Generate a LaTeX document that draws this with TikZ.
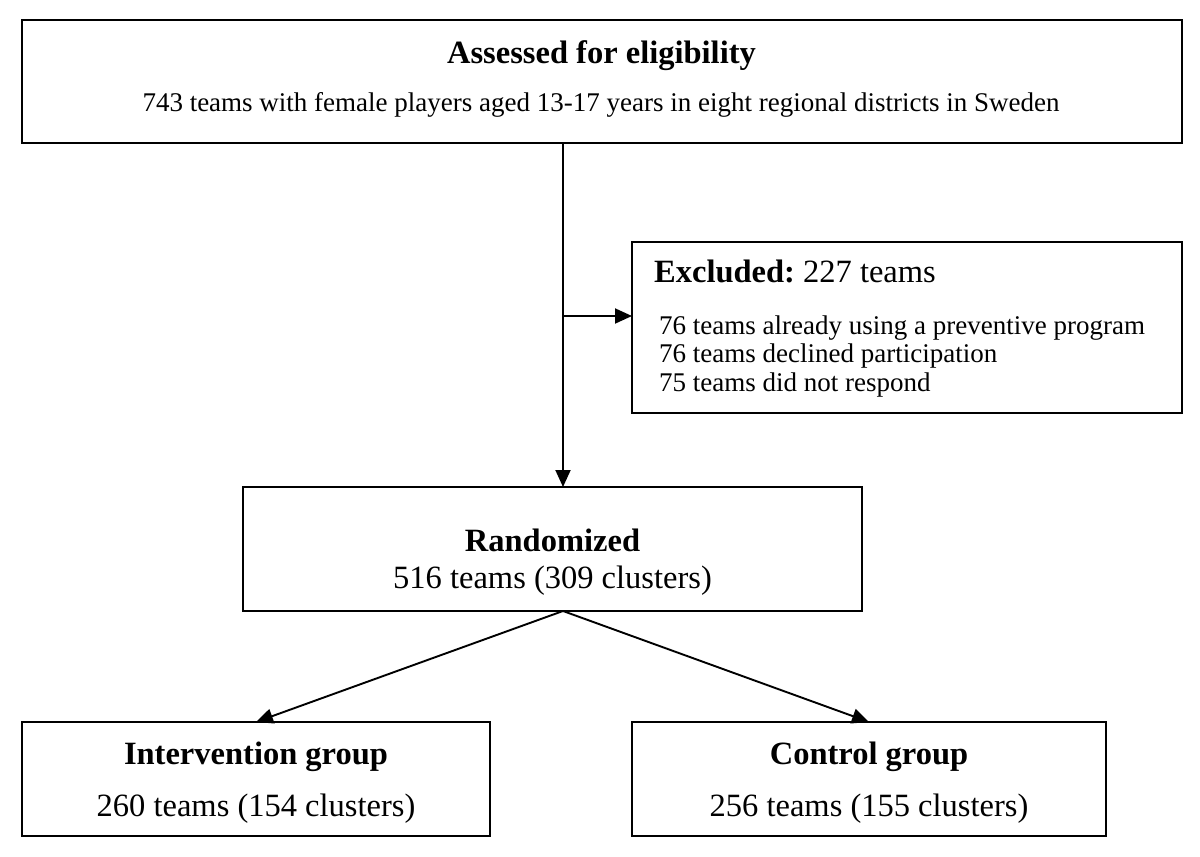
\documentclass[tikz,border=0pt]{standalone}
\usepackage{fontspec}
\setmainfont{Liberation Serif}
\usetikzlibrary{arrows.meta}
\begin{document}
\begin{tikzpicture}[x=1pt,y=-1pt,
  box/.style={draw, line width=1.9pt, inner sep=0pt, outer sep=0pt},
  arr/.style={line width=1.9pt, -{Triangle[length=17pt,width=15pt]}},
  ttl/.style={font=\fontsize{32.5}{38}\selectfont\bfseries, inner sep=0pt, anchor=base},
  big/.style={font=\fontsize{32.5}{38}\selectfont, inner sep=0pt, anchor=base},
  sml/.style={font=\fontsize{27}{32}\selectfont, inner sep=0pt, anchor=base},
]
\useasboundingbox (0,0) rectangle (1200,857);
\fill[white] (0,0) rectangle (1200,857);

% boxes
\node[box, minimum width=1160pt, minimum height=123pt] (top) at (602,81.5) {};
\node[box, minimum width=550pt, minimum height=171pt] (excl) at (907,327.5) {};
\node[box, minimum width=619pt, minimum height=124pt] (rand) at (552.5,549) {};
\node[box, minimum width=468pt, minimum height=114pt] (interv) at (256,779) {};
\node[box, minimum width=474pt, minimum height=114pt] (ctrl) at (869,779) {};

% texts
\node[ttl] (toptitle) at (601.5,63) {Assessed for eligibility};
\node[sml] (topsub) at (601,111) {743 teams with female players aged 13-17 years in eight regional districts in Sweden};

\node[big, anchor=base west] (exhead) at (654,282.5) {\textbf{Excluded:}\ 227 teams};
\node[sml, anchor=base west] (ex1) at (659,334) {76 teams already using a preventive program};
\node[sml, anchor=base west] (ex2) at (659,362.5) {76 teams declined participation};
\node[sml, anchor=base west] (ex3) at (659,391) {75 teams did not respond};

\node[ttl] (randtitle) at (552.5,551) {Randomized};
\node[big] (randsub) at (552.5,588) {516 teams (309 clusters)};

\node[ttl] (intitle) at (256,764) {Intervention group};
\node[big] (insub) at (256,816) {260 teams (154 clusters)};

\node[ttl] (cttitle) at (869,764) {Control group};
\node[big] (ctsub) at (869,816) {256 teams (155 clusters)};

% connectors
\coordinate (v0) at (563,143);
\coordinate (br) at (563,316);
\coordinate (rtop) at (563,487);
\coordinate (rbot) at (563,611);
\draw[arr] (v0) -- (rtop);
\draw[arr] (br) -- (br -| excl.west);
\draw[arr] (rbot) -- (interv.north);
\draw[arr] (rbot) -- (ctrl.north);
\end{tikzpicture}
\end{document}
